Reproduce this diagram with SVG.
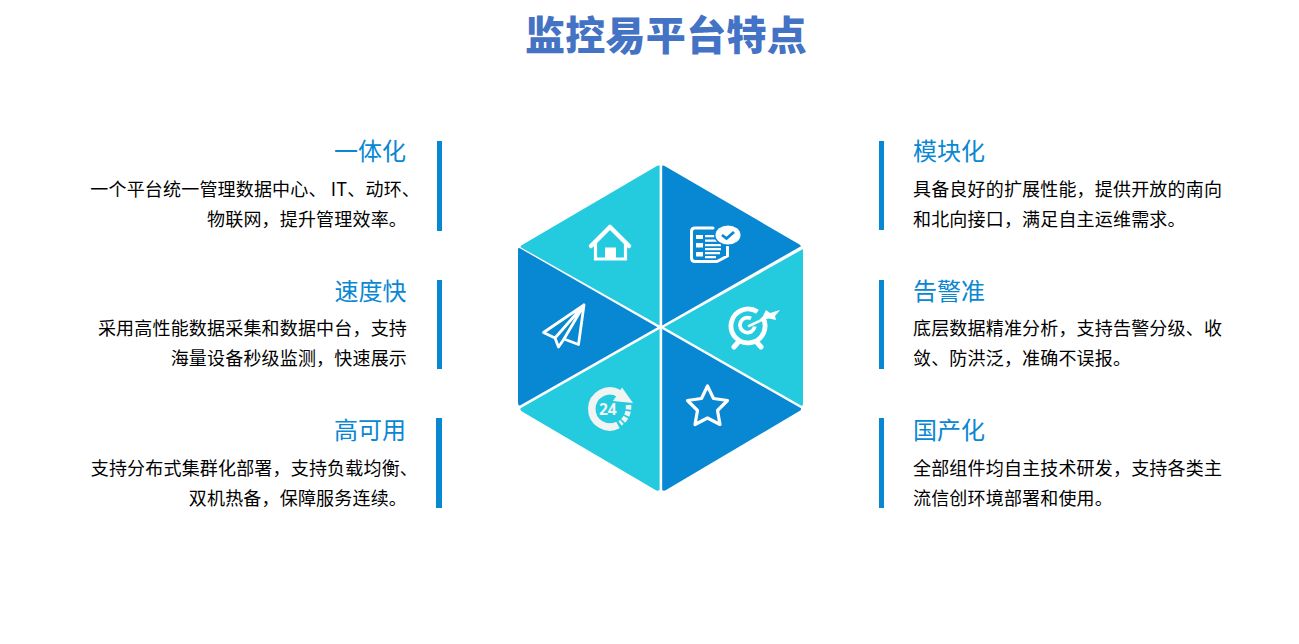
<svg xmlns="http://www.w3.org/2000/svg" width="1299" height="644" viewBox="0 0 1299 644">
<style>
text{font-family:"Noto Sans CJK SC","Liberation Sans",sans-serif}
.t{font-size:40px;font-weight:900;fill:#4472c4;text-anchor:middle;letter-spacing:.3px}
.h{font-size:24px;fill:#0a87d2}
.b{font-size:18px;fill:#000;letter-spacing:.18px}
.r{text-anchor:end}
.bar{fill:#0887d3}
.dk{fill:#0887d3}
.lt{fill:#24cbdf}
.ln{fill:none;stroke:#fff;stroke-width:3;stroke-linejoin:round;stroke-linecap:round}
.wf{fill:#fff}
</style>
<text class="t" x="666" y="50">监控易平台特点</text>
<g id="hexagon">
<path class="lt" d="M659.600 165.500V325.500L521 247.500Q519.800 246 522 245L656 166.500Q658 165 659.600 165.500Z"/>
<path class="dk" d="M662.200 165.500V325.500L800.500 246.500Q801.600 246 799.500 244.500L665.500 166.500Q663.500 165 662.200 165.500Z"/>
<path class="lt" d="M803 249V404Q803 406.500 801 405.500L664 327.300Z"/>
<path class="dk" d="M518 249V402Q518 406 520 405.500L657.500 327.300L519.500 248Q518 248 518 249Z"/>
<path class="lt" d="M659.600 329V490Q658 491.500 655.500 490L522 411.500Q519.500 410 520.500 408.300Z"/>
<path class="dk" d="M662.200 329V490Q664 491.500 666 490L799.500 411Q801.500 410 801 408.300Z"/>
</g>
<g id="icon-home">
<path class="ln" style="stroke-width:4.500" d="M591 246L610 227L629 246"/>
<path class="ln" style="stroke-width:3.200;stroke-linejoin:miter;stroke-linecap:butt" d="M595.500 243V259H625.500V243"/>
<rect class="wf" x="605" y="247.500" width="11" height="11.500"/>
</g>
<g id="icon-doc">
<path class="ln" d="M713 228H695Q691.500 228 691.500 231.500V258Q691.500 261.500 695 261.500H717L727.500 256V247"/>
<rect class="wf" x="696" y="235" width="7" height="4"/><rect class="wf" x="696" y="243" width="7" height="4.500"/><rect class="wf" x="696" y="252" width="7" height="4.500"/>
<path class="wf" d="M705 235H716V237.300H705ZM705 239.500H718V241.800H705ZM705 244H721V246.300H705ZM705 248H721V250.300H705ZM705 252H720V254.300H705ZM705 256H716V258.300H705Z"/>
<ellipse fill="#0887d3" cx="728" cy="235" rx="14" ry="11"/>
<ellipse class="wf" cx="728" cy="235" rx="12.500" ry="9.500"/>
<path d="M722 235L726.500 238.500L734 232" fill="none" stroke="#0887d3" stroke-width="2.800"/>
</g>
<g id="icon-target">
<path fill="none" stroke="#fff" stroke-width="4.800" d="M757.500 311.800A17 17 0 1 0 762.500 317"/>
<path fill="none" stroke="#fff" stroke-width="3.800" d="M751 318.500A7.500 7.500 0 1 0 754.800 326.500"/>
<path class="ln" style="stroke-width:2.500" d="M749 326L770 316"/>
<path class="wf" d="M762 318L766 310L770 313L780 310L775 316L776 320L769 318.500Z"/>
<path class="ln" style="stroke-width:5" d="M737.500 343L734 347M757.500 343L761 347"/>
</g>
<g id="icon-plane">
<path class="ln" style="stroke-width:2.800" d="M584 305L543.500 332.500L555 338L558.500 347L564 339L578.500 344.500ZM584 305L555 338M584 305L564 339"/>
</g>
<g id="icon-clock">
<path fill="none" stroke="#f2f4f4" stroke-width="7.500" d="M619 393.500A18 18 0 1 0 618 425"/>
<path fill="#f2f4f4" d="M622 387.500L633 403L613 401Z"/>
<path fill="none" stroke="#f2f4f4" stroke-width="5.500" stroke-dasharray="4.500 1.800" d="M628.500 405A20 20 0 0 1 620 423.500"/>
<text x="599" y="415" font-size="15.500" font-weight="700" fill="#f2f4f4" style="font-family:'Noto Sans',sans-serif">24</text>
</g>
<g id="icon-star">
<path class="ln" style="stroke-width:3.200" d="M707.500 386L713.500 398.500L727.500 400.500L717.500 410.500L720 424.500L707.500 418L695 424.500L697.500 410.500L687.500 400.500L701.500 398.500Z"/>
</g>
<g id="node-1"><rect class="bar" x="437" y="141" width="5" height="90"/><text class="h r" x="406" y="160">一体化</text><text class="b r" x="420" y="196">一个平台统一管理数据中心、 IT、动环、</text><text class="b r" x="407" y="226">物联网，提升管理效率。</text></g>
<g id="node-2"><rect class="bar" x="437" y="280" width="5" height="89"/><text class="h r" x="406.500" y="300">速度快</text><text class="b r" x="407" y="335">采用高性能数据采集和数据中台，支持</text><text class="b r" x="407" y="365">海量设备秒级监测，快速展示</text></g>
<g id="node-3"><rect class="bar" x="436" y="418" width="6" height="90"/><text class="h r" x="406" y="439">高可用</text><text class="b r" x="418" y="475">支持分布式集群化部署，支持负载均衡、</text><text class="b r" x="407" y="505">双机热备，保障服务连续。</text></g>
<g id="node-4"><rect class="bar" x="879" y="141" width="5" height="89"/><text class="h" x="913" y="160">模块化</text><text class="b" x="913" y="196">具备良好的扩展性能，提供开放的南向</text><text class="b" x="913" y="226">和北向接口，满足自主运维需求。</text></g>
<g id="node-5"><rect class="bar" x="879" y="280" width="5" height="89"/><text class="h" x="913" y="300">告警准</text><text class="b" x="913" y="335">底层数据精准分析，支持告警分级、收</text><text class="b" x="913" y="365">敛、防洪泛，准确不误报。</text></g>
<g id="node-6"><rect class="bar" x="879" y="418" width="5" height="90"/><text class="h" x="913" y="439">国产化</text><text class="b" x="913" y="475">全部组件均自主技术研发，支持各类主</text><text class="b" x="913" y="505">流信创环境部署和使用。</text></g>
</svg>
